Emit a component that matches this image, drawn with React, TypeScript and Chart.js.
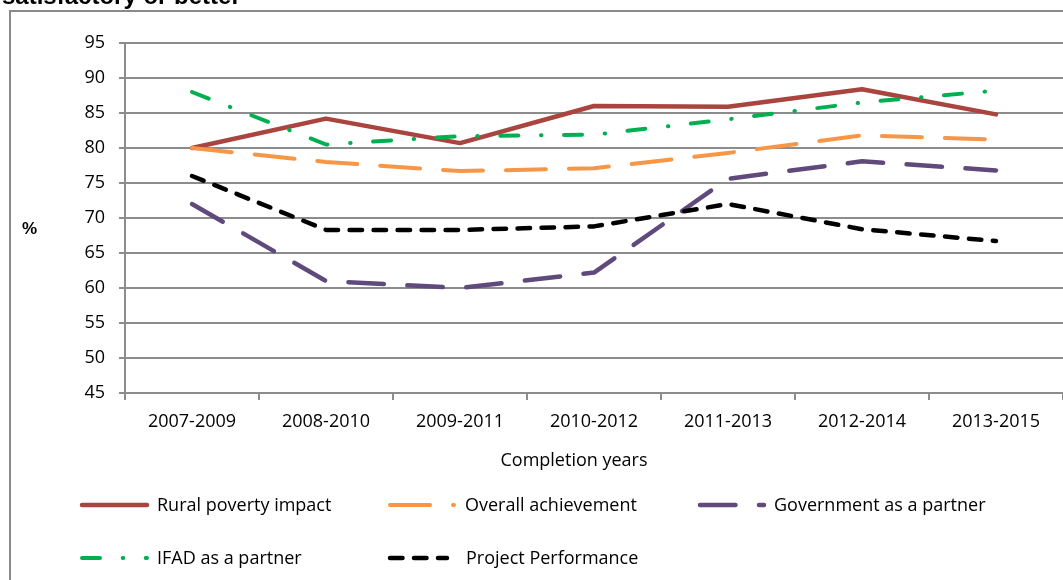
import React, { useEffect, useRef } from "react";
import { Chart, registerables } from "chart.js";

Chart.register(...registerables);

const categories = ["2007-2009", "2008-2010", "2009-2011", "2010-2012", "2011-2013", "2012-2014", "2013-2015"];
const ruralPovertyImpact = [80, 84.2, 80.7, 86, 85.9, 88.4, 84.8];
const overallAchievement = [80, 78, 76.7, 77.1, 79.3, 81.8, 81.2];
const governmentAsPartner = [72, 61, 60, 62.2, 75.6, 78.1, 76.8];
const ifadAsPartner = [88, 80.5, 81.7, 81.9, 84.1, 86.5, 88.2];
const projectPerformance = [76, 68.3, 68.3, 68.8, 72, 68.4, 66.7];
const yTickMin = 45;
const yTickMax = 95;
const yTickStep = 5;

const FONT = "'Open Sans', sans-serif";
const GRID = "#8c8c8c";

type Series = { label: string; data: number[]; color: string; width: number; dash: number[]; order: number };

const series: Series[] = [
  { label: "Rural poverty impact", data: ruralPovertyImpact, color: "#A9443F", width: 4.5, dash: [], order: 5 },
  { label: "Overall achievement", data: overallAchievement, color: "#F79646", width: 4, dash: [40, 23], order: 4 },
  { label: "Government as a partner", data: governmentAsPartner, color: "#5F4A7B", width: 4.5, dash: [35.5, 23.5], order: 3 },
  { label: "IFAD as a partner", data: ifadAsPartner, color: "#00B050", width: 4, dash: [18, 22.7, 0.5, 22.5], order: 2 },
  { label: "Project Performance", data: projectPerformance, color: "#000000", width: 4.5, dash: [12.5, 11.5], order: 1 },
];

// legend layout: [sampleStart, sampleEnd, textX, rowY]
const legendSlots = [
  [82, 147, 157, 505],
  [390, 454, 465, 505],
  [700, 764, 774, 505],
  [82, 147, 157, 558],
  [390, 447, 466, 558],
];

const decorPlugin = {
  id: "decor",
  afterDraw(chart: any) {
    const ctx: CanvasRenderingContext2D = chart.ctx;
    ctx.save();
    // frame
    ctx.strokeStyle = "#8a8a8a";
    ctx.lineWidth = 2;
    ctx.setLineDash([]);
    ctx.beginPath();
    ctx.moveTo(10, 580);
    ctx.lineTo(10, 11);
    ctx.lineTo(1063, 11);
    ctx.stroke();
    // cut title
    ctx.fillStyle = "#000";
    ctx.font = "bold 24px 'Liberation Sans', Arial, sans-serif";
    ctx.textBaseline = "alphabetic";
    ctx.textAlign = "left";
    ctx.fillText("satisfactory or better", 2, 4);
    // y title
    ctx.font = "bold 17px 'Liberation Sans', Arial, sans-serif";
    ctx.textBaseline = "middle";
    ctx.fillText("%", 22, 229);
    // x title
    ctx.font = `18px ${FONT}`;
    ctx.textAlign = "center";
    ctx.textBaseline = "alphabetic";
    ctx.fillText("Completion years", 574, 466);
    // legend
    series.forEach((s, i) => {
      const [x0, x1, tx, y] = legendSlots[i];
      ctx.save();
      ctx.strokeStyle = s.color;
      ctx.lineWidth = s.width;
      ctx.lineCap = "round";
      ctx.setLineDash(s.dash);
      ctx.beginPath();
      ctx.moveTo(x0, y);
      ctx.lineTo(x1, y);
      ctx.stroke();
      ctx.restore();
      ctx.fillStyle = "#000";
      ctx.font = `18px ${FONT}`;
      ctx.textAlign = "left";
      ctx.textBaseline = "middle";
      ctx.fillText(s.label, tx, y + 1);
    });
    ctx.restore();
  },
};

export default function App() {
  const ref = useRef<HTMLCanvasElement | null>(null);
  useEffect(() => {
    if (!ref.current) return;
    Chart.defaults.font.family = FONT;
    const chart = new Chart(ref.current, {
      type: "line",
      data: {
        labels: categories,
        datasets: series.map((s) => ({
          label: s.label,
          data: s.data,
          borderColor: s.color,
          backgroundColor: s.color,
          borderWidth: s.width,
          borderDash: s.dash,
          borderCapStyle: "round",
          borderJoinStyle: "round",
          pointRadius: 0,
          tension: 0,
          fill: false,
          order: s.order,
        })),
      },
      options: {
        animation: false,
        responsive: false,
        layout: { padding: { top: 43, left: 0, right: 0, bottom: 0 } },
        plugins: {
          legend: { display: false },
          tooltip: { enabled: false },
          title: { display: false },
        },
        scales: {
          x: {
            offset: true,
            grid: {
              offset: true,
              drawOnChartArea: false,
              drawTicks: true,
              tickLength: 7,
              color: GRID,
              lineWidth: 2,
            },
            border: { display: false },
            ticks: { font: { size: 18, family: FONT }, color: "#000", padding: 11, maxRotation: 0, autoSkip: false },
            afterFit: (s: any) => {
              s.height = 187;
            },
          },
          y: {
            min: yTickMin,
            max: yTickMax,
            ticks: { stepSize: yTickStep, font: { size: 18, family: FONT }, color: "#000", padding: 14 },
            grid: { color: GRID, lineWidth: 2, tickLength: 6 },
            border: { color: GRID, width: 2 },
            afterFit: (s: any) => {
              s.width = 125;
            },
          },
        },
      } as any,
      plugins: [decorPlugin],
    });
    return () => chart.destroy();
  }, []);
  return (
    <div style={{ position: "absolute", left: 0, top: 0, width: 1063, height: 580, background: "#fff" }}>
      <canvas ref={ref} width={1063} height={580} style={{ display: "block" }} />
    </div>
  );
}
